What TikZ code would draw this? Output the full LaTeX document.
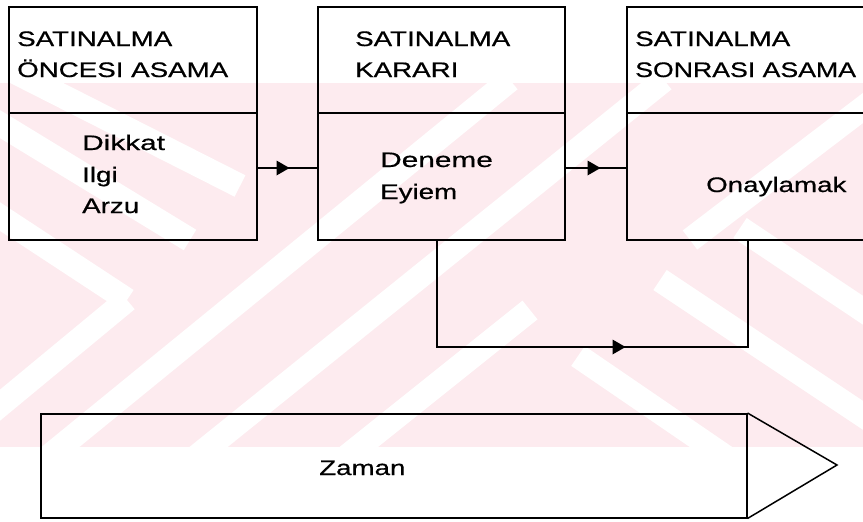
\documentclass[tikz,border=0pt]{standalone}
\usepackage{fontspec}
\setmainfont{Liberation Sans}[FakeStretch=1.32,FakeBold=0.6]
\usetikzlibrary{decorations.markings}
\definecolor{wm}{RGB}{253,235,239}
\begin{document}
\begin{tikzpicture}[x=1pt,y=-1pt,
  box/.style={draw, line width=1.5pt, anchor=north west, inner sep=0pt},
  lbl/.style={anchor=base west, inner sep=0pt, font=\fontsize{21}{25}\selectfont},
  lblw/.style={lbl, font=\fontsize{21}{25}\selectfont\addfontfeature{FakeStretch=1.42}},
  lbln/.style={lbl, font=\fontsize{21}{25}\selectfont\addfontfeature{FakeStretch=1.27}},
  conn/.style={line width=1.5pt},
  stripe/.style={white, line width=24pt},
  midarrow/.style={postaction={decorate}, decoration={markings,
      mark=at position #1 with {\fill[black] (-12pt,-7.5pt) -- (1pt,0pt) -- (-12pt,7.5pt) -- cycle;}}}]
\path[use as bounding box, clip] (0,0) rectangle (863,522);
\fill[white] (0,0) rectangle (863,522);
% watermark
\begin{scope}
  \clip (0,83) rectangle (863,447);
  \fill[wm] (0,83) rectangle (863,447);
  % upper-left
  \draw[stripe] (15,72) -- (240,186);
  \draw[stripe] (-10,118) -- (190,240);
  \draw[stripe] (-10,210) -- (127,300);
  \draw[stripe] (127,300) -- (-30,430);
  % diagonal band
  \draw[stripe] (20,480) -- (510,80);
  \draw[stripe] (180,470) -- (664,80);
  \draw[stripe] (330,470) -- (530,310);
  % upper right
  \draw[stripe] (690,240) -- (880,95);
  % lower right
  \draw[stripe] (660,280) -- (900,440);
  \draw[stripe] (740,228) -- (900,335);
  \draw[stripe] (578,356) -- (730,460);
\end{scope}
% boxes
\node[box, minimum width=248pt, minimum height=233pt] (b1) at (8,6) {};
\node[box, minimum width=247pt, minimum height=233pt] (b2) at (317,6) {};
\node[box, minimum width=300pt, minimum height=233pt] (b3) at (626,6) {};
\draw[conn] (b1.west |- 0,113) -- (b1.east |- 0,113);
\draw[conn] (b2.west |- 0,113) -- (b2.east |- 0,113);
\draw[conn] (b3.west |- 0,113) -- (b3.east |- 0,113);
% texts
\node[lbl] (t1a) at (17,46) {SATINALMA};
\node[lbl] (t1b) at (17,77) {ÖNCESI ASAMA};
\node[lblw] (t1c) at (82,150) {Dikkat};
\node[lbl] (t1d) at (82,182) {Ilgi};
\node[lbl] (t1e) at (82,213) {Arzu};
\node[lbl] (t2a) at (355,46) {SATINALMA};
\node[lbl] (t2b) at (355,77) {KARARI};
\node[lblw] (t2c) at (380,167) {Deneme};
\node[lbl] (t2d) at (380,199) {Eyiem};
\node[lbl] (t3a) at (635,46) {SATINALMA};
\node[lbln] (t3b) at (635,77) {SONRASI ASAMA};
\node[lbl] (t3c) at (706,192) {Onaylamak};
% connectors
\draw[conn, midarrow=31pt] (b1.east |- 0,168) -- (b2.west |- 0,168);
\draw[conn, midarrow=34pt] (b2.east |- 0,168) -- (b3.west |- 0,168);
\draw[conn, midarrow=294pt] (b2.south -| 437,0) -- (437,347) -- (748,347) -- (b3.south -| 748,0);
% time arrow
\node[box, minimum width=706pt, minimum height=104pt] (zr) at (40,413) {};
\coordinate (ztip) at (837,465);
\draw[conn, line join=miter] (zr.north east) -- (ztip) -- (zr.south east);
\node[lbl] (zt) at (319,475) {Zaman};
\end{tikzpicture}
\end{document}
